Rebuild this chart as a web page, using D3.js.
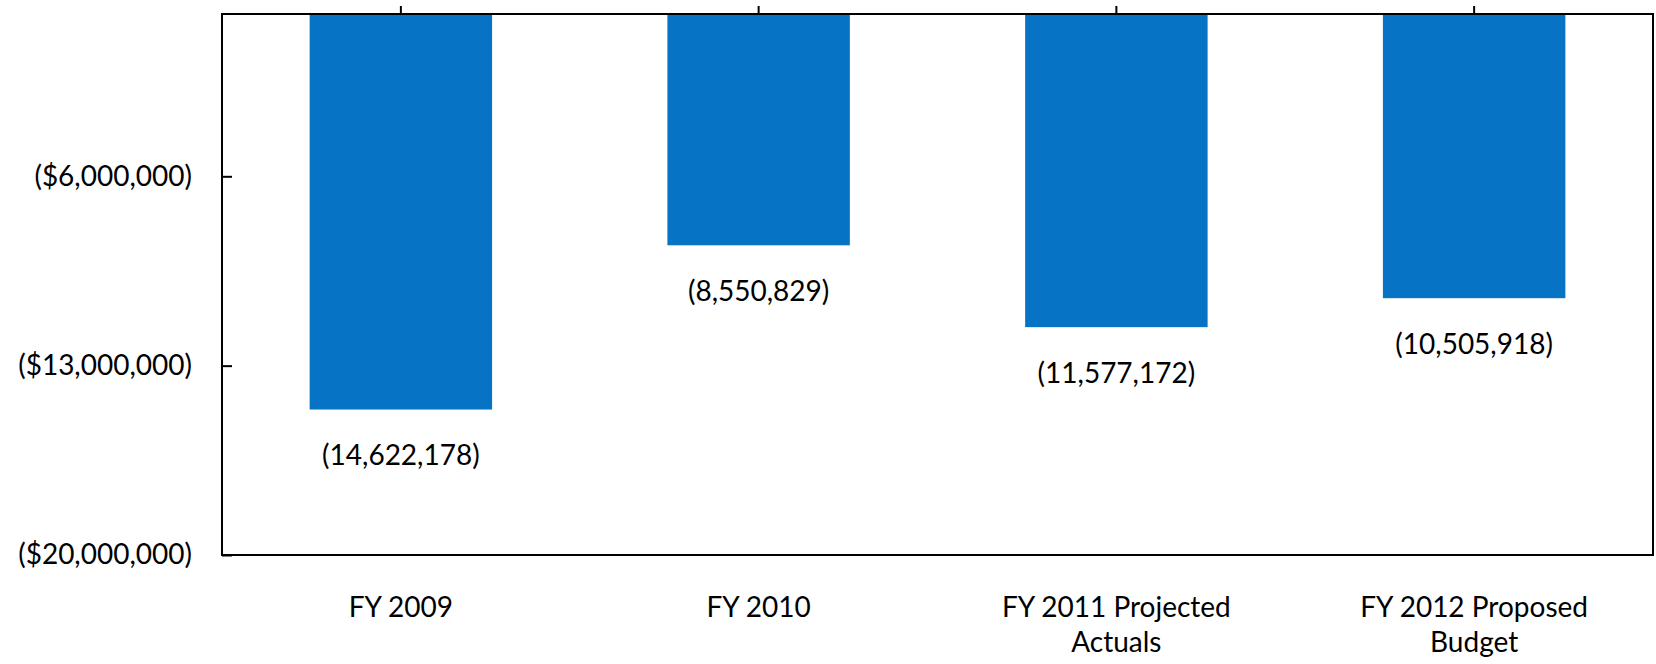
<!DOCTYPE html>
<html>
<head>
<meta charset="utf-8">
<script src="https://cdn.jsdelivr.net/npm/d3@7"></script>
<style>
  body { margin: 0; background: #fff; }
  text { font-family: Lato, "Open Sans", sans-serif; fill: #000; }
  .axis path, .axis line { stroke: #000; stroke-width: 2; }
</style>
</head>
<body>
<svg id="chart"></svg>
<script>
// Data
var categories = ['FY 2009', 'FY 2010', 'FY 2011 Projected|Actuals', 'FY 2012 Proposed|Budget'];
var values = [-14622178, -8550829, -11577172, -10505918];
var yTicks = [-6000000, -13000000, -20000000];

var width = 1656;
var height = 664;
var margin = { top: 14, right: 3, bottom: 109, left: 222 };
var plotW = width - margin.left - margin.right;
var plotH = height - margin.top - margin.bottom;
var fontSize = '28px';

var svg = d3.select('#chart')
  .attr('width', width)
  .attr('height', height);

var g = svg.append('g')
  .attr('transform', 'translate(' + margin.left + ',' + margin.top + ')');

var x = d3.scaleBand()
  .domain(categories)
  .range([0, plotW])
  .paddingInner(0.49)
  .paddingOuter(0.245);

var y = d3.scaleLinear()
  .domain([0, -20000000])
  .range([0, plotH]);

var money = d3.format(',');

// Bars
g.selectAll('.bar')
  .data(values)
  .enter()
  .append('rect')
  .attr('class', 'bar')
  .attr('x', function(d, i) { return x(categories[i]); })
  .attr('y', y(0))
  .attr('width', x.bandwidth())
  .attr('height', function(d) { return y(d) - y(0); })
  .attr('fill', '#0673c4');

// Value labels under the bars
g.selectAll('.value-label')
  .data(values)
  .enter()
  .append('text')
  .attr('class', 'value-label')
  .attr('x', function(d, i) { return x(categories[i]) + x.bandwidth() / 2; })
  .attr('y', function(d) { return y(d) + 46; })
  .attr('dy', '0.35em')
  .attr('text-anchor', 'middle')
  .style('font-size', fontSize)
  .text(function(d) { return '(' + money(Math.abs(d)) + ')'; });

// Frame
g.append('rect')
  .attr('x', 0)
  .attr('y', 0)
  .attr('width', plotW)
  .attr('height', plotH)
  .attr('fill', 'none')
  .attr('stroke', '#000')
  .attr('stroke-width', 2);

// Left axis, ticks inward
var yAxis = g.append('g')
  .attr('class', 'axis y-axis')
  .call(d3.axisLeft(y)
    .tickValues(yTicks)
    .tickSize(-10)
    .tickPadding(30)
    .tickFormat(function(d) { return '($' + money(Math.abs(d)) + ')'; }));
yAxis.select('.domain').remove();
yAxis.selectAll('text').style('font-size', fontSize);

// Category axis at zero (top), ticks outward
var xAxis = g.append('g')
  .attr('class', 'axis x-axis')
  .call(d3.axisTop(x).tickSize(8).tickSizeOuter(0).tickFormat(''));
xAxis.select('.domain').remove();

// Category labels at the bottom
var catLabels = g.selectAll('.cat-label')
  .data(categories)
  .enter()
  .append('text')
  .attr('class', 'cat-label')
  .attr('text-anchor', 'middle')
  .attr('transform', function(d) {
    return 'translate(' + (x(d) + x.bandwidth() / 2) + ',' + (plotH + 52) + ')';
  })
  .style('font-size', fontSize);

catLabels.selectAll('tspan')
  .data(function(d) { return d.split('|'); })
  .enter()
  .append('tspan')
  .attr('x', 0)
  .attr('dy', function(d, i) { return i === 0 ? '0.35em' : '35px'; })
  .text(function(d) { return d; });
</script>
</body>
</html>
